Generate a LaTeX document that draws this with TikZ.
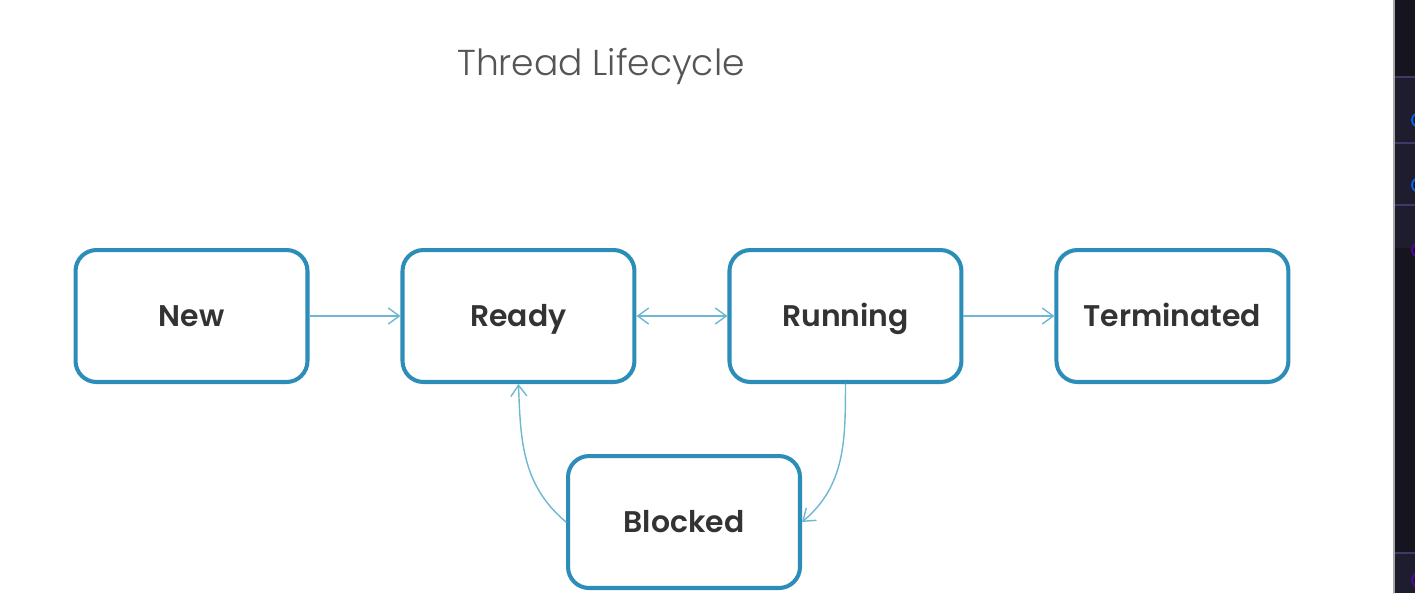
\documentclass[tikz,border=0pt]{standalone}
\usepackage{fontspec}
\setmainfont{Poppins}[BoldFont={Poppins SemiBold}]
\newfontfamily\titlefont{Poppins Light}
\usepackage{tikz}
\usetikzlibrary{arrows.meta}
\usetikzlibrary{shapes,positioning}
\definecolor{boxblue}{HTML}{2B8DB8}
\definecolor{linkblue}{HTML}{6FB7D3}
\definecolor{titlegray}{HTML}{555555}
\definecolor{labelgray}{HTML}{333333}
\definecolor{panel}{HTML}{16151F}
\definecolor{panelrow}{HTML}{1E1D2E}
\definecolor{panelline}{HTML}{3B3A6B}
\tikzset{>={Straight Barb[length=2.2mm,width=3.2mm]},
  state/.style={draw=boxblue,line width=2.3pt,rounded corners=0.42cm,
    minimum width=4.64cm,minimum height=2.64cm,fill=white,
    text height=12pt,text depth=0pt,
    text=labelgray,font=\fontsize{17}{20}\selectfont\bfseries},
  link/.style={draw=linkblue,line width=0.8pt}}

\begin{document}
\begin{tikzpicture}[x=0.02cm,y=0.02cm,line cap=round]

  \useasboundingbox [fill=white] (0,0) rectangle (1415,-593);

  % title
  \node (title) [text=titlegray,font=\titlefont\fontsize{20.5}{24}\selectfont] at (601,-66) {Thread Lifecycle};

  % states
  \node [state] (new) at (191.5,-316) {New};
  \node [state,right=1.82cm of new] (ready) {Ready};
  \node [state,right=1.82cm of ready] (running) {Running};
  \node [state,right=1.82cm of running] (terminated) {Terminated};
  \node [state] (blocked) at (684,-522) {Blocked};

  % transitions
  \draw [link,->] (new) -- (ready);
  \draw [link,<->] (ready) -- (running);
  \draw [link,->] (running) -- (terminated);
  \draw [link,->] (running.south) to[out=-90,in=40] (blocked.east);
  \draw [link,->] (blocked.west) to[out=140,in=-88] (ready.south);

  % dark side panel
  \fill [panel] (1394,0) rectangle (1415,-593);
  \fill [panelrow] (1394,-77) rectangle (1415,-248);
  \fill [panelrow] (1394,-553) rectangle (1415,-593);
  \foreach \y in {77,143,205,553}
    \draw [panelline,line width=0.6pt] (1394,-\y) -- (1415,-\y);
  \draw [gray!70,line width=0.8pt] (1394,0) -- (1394,-593);
  \draw [blue!60!cyan,line width=1pt] (1419,-120) circle (7);
  \draw [blue!60!cyan,line width=1pt] (1419,-185) circle (7);
  \draw [violet!70!blue,line width=1pt] (1419,-250) circle (7);
  \draw [violet!70!blue,line width=1pt] (1419,-580) circle (7);

\end{tikzpicture}
\end{document}
